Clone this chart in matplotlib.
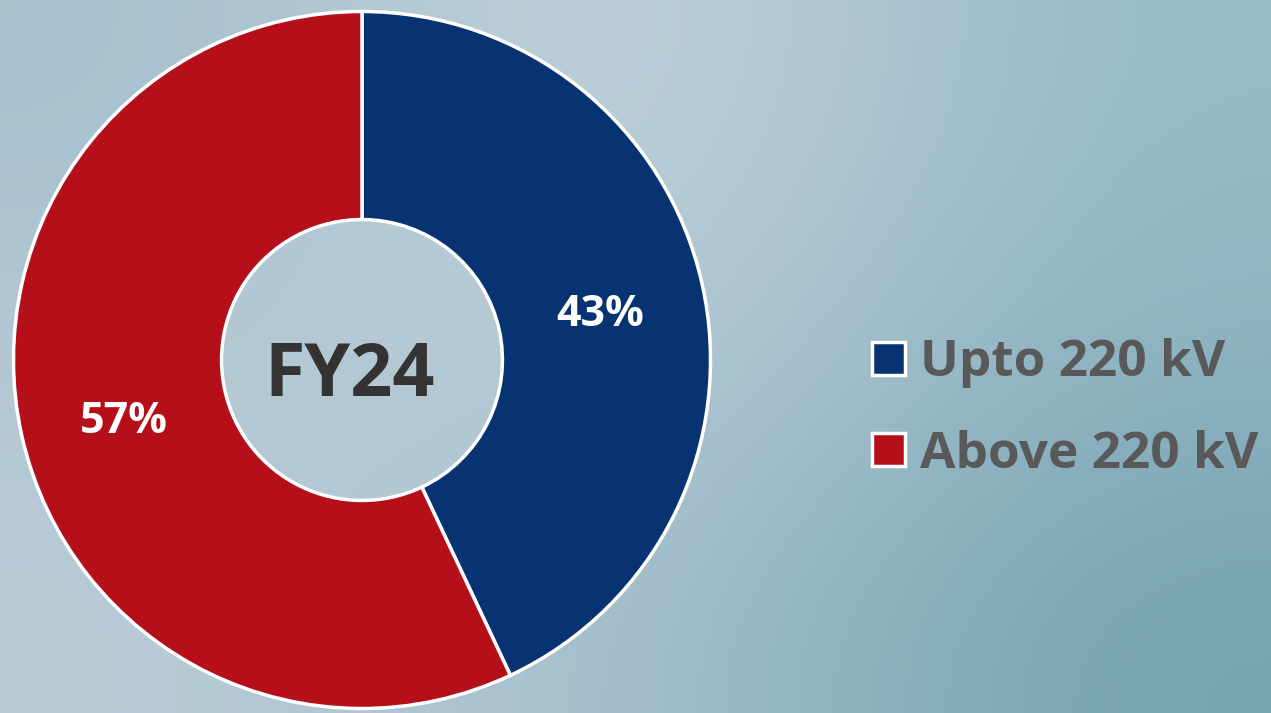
import numpy as np
import matplotlib
matplotlib.use("Agg")
import matplotlib.pyplot as plt

# data
categories = ["Upto 220 kV", "Above 220 kV"]
shares = [43, 57]
colors = ["#083372", "#b50f19"]
center_label = "FY24"

plt.rcParams['font.family'] = ['Open Sans', 'DejaVu Sans']

W, H = 1271, 713
fig = plt.figure(figsize=(W / 100, H / 100), dpi=100)

# soft blue-grey background
bg = fig.add_axes([0, 0, 1, 1])
grid = np.array([
    [[165, 192, 205], [200, 213, 222], [150, 185, 200]],
    [[180, 200, 212], [185, 205, 215], [140, 178, 192]],
    [[185, 203, 213], [165, 192, 205], [118, 163, 178]],
]) / 255.0
bg.imshow(grid, extent=[0, 1, 0, 1], aspect='auto', interpolation='bicubic')
bg.set_axis_off()

# donut
cx, cy, R = 362, H - 360, 352
ax = fig.add_axes([(cx - R) / W, (cy - R) / H, 2 * R / W, 2 * R / H])
wedges, _, autotexts = ax.pie(
    shares,
    colors=colors,
    startangle=90,
    counterclock=False,
    radius=1,
    autopct=lambda p: f"{p:.0f}%",
    pctdistance=0.70,
    wedgeprops=dict(width=0.597, edgecolor="white", linewidth=2.5),
    textprops=dict(color="white", fontsize=31, fontweight="bold"),
)
for t in autotexts:
    x, y = t.get_position()
    t.set_position((x, y - 0.023))
ax.set_xlim(-1.01, 1.01)
ax.set_ylim(-1.01, 1.01)
ax.text(-0.035, -0.05, center_label, ha="center", va="center",
        fontsize=53, fontweight="bold", color="#333333")

fig.legend(
    wedges, categories,
    loc="center left",
    bbox_to_anchor=(826 / W, (H - 409) / H),
    frameon=False,
    prop=dict(size=37, weight="bold"),
    labelcolor="#595959",
    handlelength=0.63,
    handleheight=0.63,
    handletextpad=0.3,
    labelspacing=0.8,
)

fig.savefig("out.png", dpi=100)
